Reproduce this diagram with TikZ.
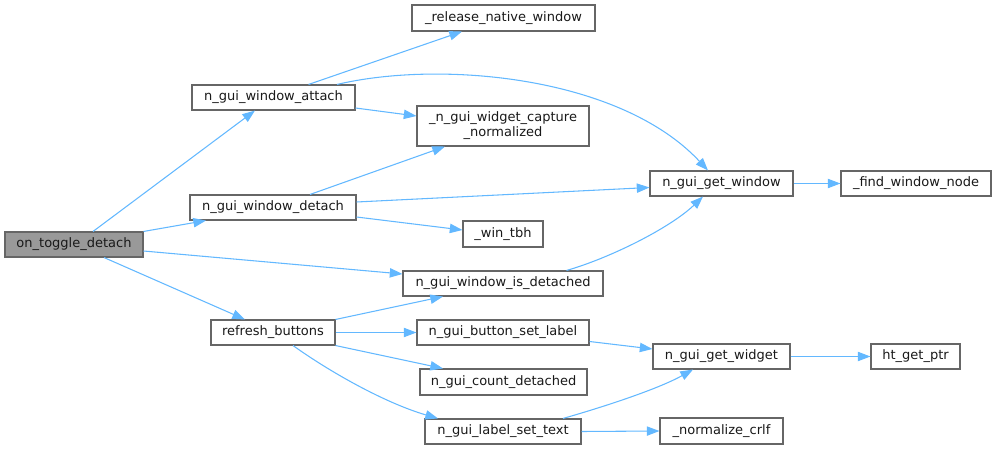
\documentclass[tikz,border=0pt]{standalone}
\usepackage{fontspec}
\setmainfont{DejaVu Sans}
\usetikzlibrary{arrows.meta,calc}
\begin{document}
\begin{tikzpicture}[x=0.75pt,y=-0.75pt,
  box/.style={draw=boxborder,fill=white,line width=0.8pt,inner sep=0pt,align=center,
    font=\fontsize{9.75pt}{11.25pt}\selectfont,text=black!90},
  root/.style={box,fill=rootfill},
  edge/.style={draw=edgeblue,line width=0.8pt,-{Triangle[length=9.5pt,width=7pt]}}]
\definecolor{boxborder}{HTML}{666666}
\definecolor{rootfill}{HTML}{999999}
\definecolor{edgeblue}{HTML}{63B8FF}
\useasboundingbox (0,0) rectangle (996,449);
% nodes
\node[root,minimum width=138*0.75pt,minimum height=25*0.75pt] (otd) at (74,244.5) {on\_toggle\_detach};
\node[box,minimum width=163*0.75pt,minimum height=25*0.75pt] (att) at (273.5,97.5) {n\_gui\_window\_attach};
\node[box,minimum width=166*0.75pt,minimum height=25*0.75pt] (det) at (273,207.5) {n\_gui\_window\_detach};
\node[box,minimum width=124*0.75pt,minimum height=25*0.75pt] (ref) at (273,332.5) {refresh\_buttons};
\node[box,minimum width=183*0.75pt,minimum height=26*0.75pt] (rel) at (503.5,18) {\_release\_native\_window};
\node[box,minimum width=172*0.75pt,minimum height=40*0.75pt] (cap) at (503,126) {\_n\_gui\_widget\_capture\\\_normalized};
\node[box,minimum width=80*0.75pt,minimum height=26*0.75pt] (tbh) at (503,234) {\_win\_tbh};
\node[box,minimum width=200*0.75pt,minimum height=25*0.75pt] (isd) at (503,283.5) {n\_gui\_window\_is\_detached};
\node[box,minimum width=172*0.75pt,minimum height=25*0.75pt] (bsl) at (503,332.5) {n\_gui\_button\_set\_label};
\node[box,minimum width=167*0.75pt,minimum height=26*0.75pt] (cnt) at (503.5,382) {n\_gui\_count\_detached};
\node[box,minimum width=156*0.75pt,minimum height=25*0.75pt] (lst) at (503,431.5) {n\_gui\_label\_set\_text};
\node[box,minimum width=143*0.75pt,minimum height=25*0.75pt] (gwin) at (721.5,183.5) {n\_gui\_get\_window};
\node[box,minimum width=150*0.75pt,minimum height=25*0.75pt] (fwn) at (916,183.5) {\_find\_window\_node};
\node[box,minimum width=137*0.75pt,minimum height=25*0.75pt] (gwid) at (721.5,356.5) {n\_gui\_get\_widget};
\node[box,minimum width=123*0.75pt,minimum height=26*0.75pt] (ncr) at (721.5,431) {\_normalize\_crlf};
\node[box,minimum width=89*0.75pt,minimum height=25*0.75pt] (htp) at (915.5,356.5) {ht\_get\_ptr};
% edges
\draw[edge] ($(otd.north)+(19,0)$) -- ($(att.south)+(-18.5,0)$);
\draw[edge] (otd.north east) -- ($(det.south)+(-67,0)$);
\draw[edge] ($(otd.east)+(0,6.5)$) -- ($(isd.west)+(0,-9.5)$);
\draw[edge] ($(otd.south)+(30,0)$) -- ($(ref.north)+(-28,0)$);
\draw[edge] ($(att.north)+(35,0)$) -- ($(rel.south)+(-41.5,0)$);
\draw[edge] ($(att.north)+(63.5,0)$) .. controls (440,60) and (620,76) .. ($(gwin.north)+(-13.5,0)$);
\draw[edge] ($(att.east)+(0,10.5)$) -- ($(cap.west)+(0,-10)$);
\draw[edge] ($(det.north)+(37,0)$) -- ($(cap.south)+(-58,0)$);
\draw[edge] ($(det.east)+(0,-5.5)$) -- ($(gwin.west)+(0,4)$);
\draw[edge] ($(det.east)+(0,9.5)$) -- ($(tbh.west)+(0,-4)$);
\draw[edge] ($(isd.north)+(63.5,0)$) .. controls (610,258) and (670,228) .. ($(gwin.south)+(-18.5,0)$);
\draw[edge] (ref.north east) -- ($(isd.south)+(-60,0)$);
\draw[edge] (ref.east) -- (bsl.west);
\draw[edge] (ref.south east) -- ($(cnt.north)+(-60.5,0)$);
\draw[edge] ($(ref.south)+(20,0)$) .. controls (330,372) and (385,403) .. ($(lst.north)+(-65,0)$);
\draw[edge] ($(bsl.east)+(0,9)$) -- ($(gwid.west)+(0,-7.5)$);
\draw[edge] ($(lst.north)+(60,0)$) .. controls (610,405) and (660,388) .. ($(gwid.south)+(-28.5,0)$);
\draw[edge] (lst.east) -- (ncr.west);
\draw[edge] (gwin.east) -- (fwn.west);
\draw[edge] (gwid.east) -- (htp.west);
\end{tikzpicture}
\end{document}
